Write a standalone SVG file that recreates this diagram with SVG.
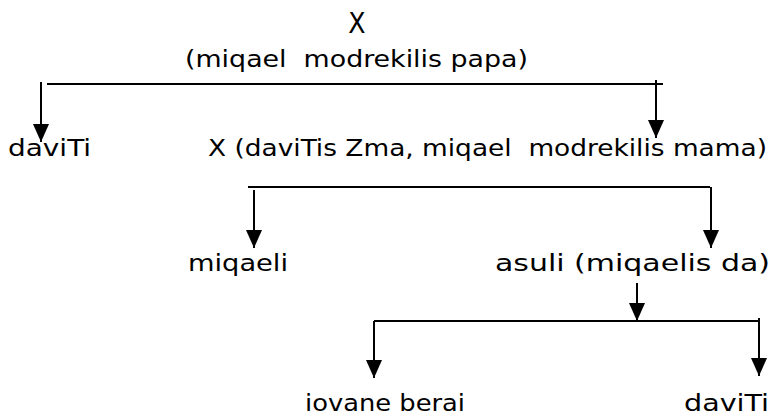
<svg xmlns="http://www.w3.org/2000/svg" width="776" height="417" viewBox="0 0 776 417">
<style>
  text { font-family: "DejaVu Sans Condensed", "Liberation Sans Narrow", "Liberation Sans", sans-serif; font-size: 23px; fill: #000; font-stretch: condensed; }
  .big { font-size: 28px; }
  .ln { stroke: #000; stroke-width: 2; fill: none; }
  .arr { stroke: #000; stroke-width: 2; fill: none; marker-end: url(#ah); }
</style>
<defs>
  <marker id="ah" markerUnits="userSpaceOnUse" markerWidth="18" markerHeight="16" viewBox="0 0 18 16" refX="18" refY="8" orient="auto">
    <path d="M0,0 L18,8 L0,16 Z" fill="#000"/>
  </marker>
</defs>
<rect width="776" height="417" fill="#fff"/>
<g id="connectors">
  <line class="ln" x1="47" y1="84" x2="663" y2="84"/>
  <line class="arr" x1="41" y1="82" x2="41" y2="142"/>
  <line class="arr" x1="656" y1="80" x2="656" y2="138"/>
  <line class="ln" x1="248" y1="187" x2="710" y2="187"/>
  <line class="arr" x1="254" y1="190" x2="254" y2="248"/>
  <line class="arr" x1="711" y1="187" x2="711" y2="248"/>
  <line class="arr" x1="637" y1="283" x2="637" y2="321"/>
  <line class="ln" x1="374" y1="321" x2="759" y2="321"/>
  <line class="arr" x1="374" y1="321" x2="374" y2="378"/>
  <line class="arr" x1="759" y1="318" x2="759" y2="376"/>
</g>
<g id="grandfather">
  <text class="big" x="357" y="33" text-anchor="middle">X</text>
  <text x="185" y="67" textLength="343" lengthAdjust="spacingAndGlyphs" xml:space="preserve">(miqael  modrekilis papa)</text>
</g>
<g id="david1">
  <text x="8" y="156" textLength="83" lengthAdjust="spacingAndGlyphs">daviTi</text>
</g>
<g id="father">
  <text x="208" y="156" textLength="559" lengthAdjust="spacingAndGlyphs" xml:space="preserve">X (daviTis Zma, miqael  modrekilis mama)</text>
</g>
<g id="michael">
  <text x="188" y="271" textLength="100" lengthAdjust="spacingAndGlyphs">miqaeli</text>
</g>
<g id="daughter">
  <text x="495" y="271" textLength="275" lengthAdjust="spacingAndGlyphs">asuli (miqaelis da)</text>
</g>
<g id="iovane">
  <text x="305" y="411" textLength="160" lengthAdjust="spacingAndGlyphs">iovane berai</text>
</g>
<g id="david2">
  <text x="684" y="411" textLength="85" lengthAdjust="spacingAndGlyphs">daviTi</text>
</g>
</svg>
